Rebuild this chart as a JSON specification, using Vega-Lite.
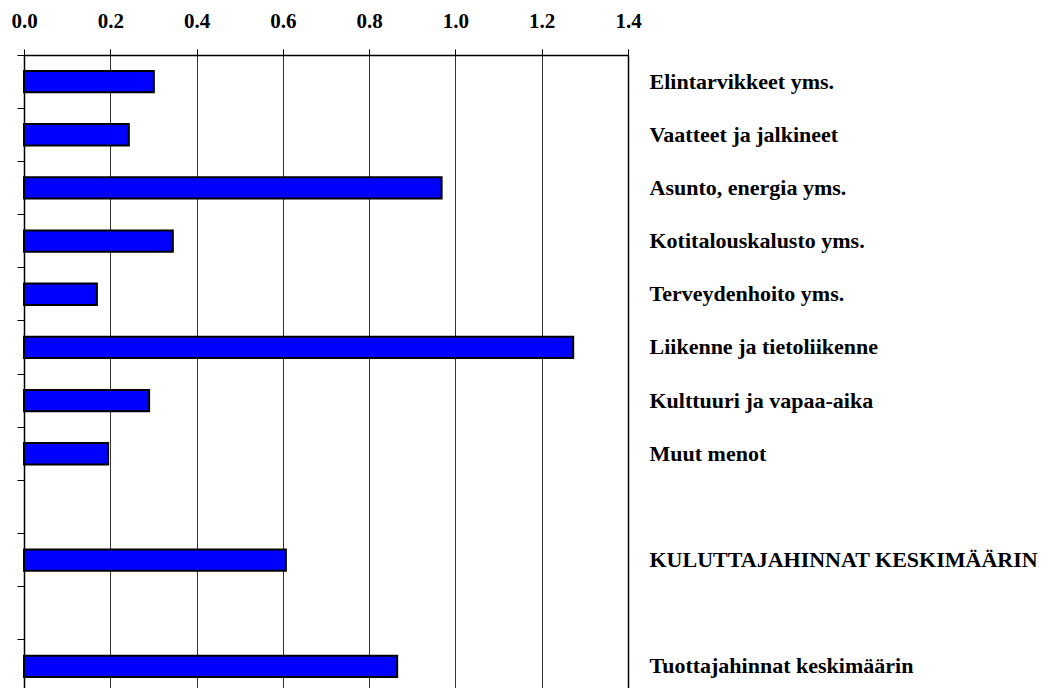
{
  "$schema": "https://vega.github.io/schema/vega-lite/v6.json",
  "width": 604,
  "height": 633,
  "autosize": {"type": "none"},
  "padding": {"left": 24, "top": 55, "right": 420, "bottom": 0},
  "background": "white",
  "config": {"view": {"stroke": null}, "font": "Liberation Serif"},
  "data": {
    "values": [
      {"cat": "Elintarvikkeet yms.", "value": 0.301},
      {"cat": "Vaatteet ja jalkineet", "value": 0.243},
      {"cat": "Asunto, energia yms.", "value": 0.968},
      {"cat": "Kotitalouskalusto yms.", "value": 0.345},
      {"cat": "Terveydenhoito yms.", "value": 0.169},
      {"cat": "Liikenne ja tietoliikenne", "value": 1.273},
      {"cat": "Kulttuuri ja vapaa-aika", "value": 0.29},
      {"cat": "Muut menot", "value": 0.195},
      {"cat": "KULUTTAJAHINNAT KESKIMÄÄRIN", "value": 0.607},
      {"cat": "Tuottajahinnat keskimäärin", "value": 0.865}
    ]
  },
  "encoding": {
    "x": {
      "field": "value",
      "type": "quantitative",
      "scale": {"domain": [0, 1.4], "nice": false, "zero": true},
      "axis": {
        "orient": "top",
        "title": null,
        "values": [0, 0.2, 0.4, 0.6, 0.8, 1.0, 1.2, 1.4],
        "format": ".1f",
        "labelFont": "Liberation Serif",
        "labelFontWeight": "bold",
        "labelFontSize": 21,
        "labelColor": "#000000",
        "labelFlush": false,
        "labelOverlap": false,
        "labelBound": false,
        "labelPadding": 18,
        "tickSize": 6,
        "tickColor": "#000000",
        "tickWidth": 1,
        "domainColor": "#000000",
        "domainWidth": 1.5,
        "grid": true,
        "gridColor": "#333333",
        "gridWidth": 1,
        "gridOpacity": 1
      }
    }
  },
  "layer": [
    {
      "mark": {"type": "bar", "height": {"band": 0.4}, "fill": "#0000FF", "stroke": "#000000", "strokeWidth": 2},
      "encoding": {
        "y": {
          "field": "cat",
          "type": "nominal",
          "sort": null,
          "scale": {
            "domain": ["Elintarvikkeet yms.", "Vaatteet ja jalkineet", "Asunto, energia yms.", "Kotitalouskalusto yms.", "Terveydenhoito yms.", "Liikenne ja tietoliikenne", "Kulttuuri ja vapaa-aika", "Muut menot", " ", "KULUTTAJAHINNAT KESKIMÄÄRIN", "  ", "Tuottajahinnat keskimäärin"],
            "range": [0, 638],
            "paddingInner": 0,
            "paddingOuter": 0
          },
          "axis": {
            "orient": "left",
            "title": null,
            "labels": false,
            "ticks": true,
            "tickSize": 7,
            "tickColor": "#000000",
            "tickWidth": 1,
            "bandPosition": 0,
            "domain": true,
            "domainColor": "#000000",
            "domainWidth": 1.5,
            "grid": false
          }
        }
      }
    },
    {
      "mark": {"type": "bar", "height": {"band": 0.4}, "opacity": 0},
      "encoding": {
        "y": {
          "field": "cat",
          "type": "nominal",
          "sort": null,
          "axis": {
            "orient": "right",
            "title": null,
            "ticks": false,
            "labels": true,
            "labelPadding": 21,
            "labelFont": "Liberation Serif",
            "labelFontWeight": "bold",
            "labelFontSize": 22,
            "labelColor": "#000000",
            "labelAlign": "left",
            "labelLimit": 0,
            "labelOverlap": false,
            "domain": true,
            "domainColor": "#000000",
            "domainWidth": 1.5,
            "grid": false
          }
        }
      }
    }
  ],
  "resolve": {"axis": {"y": "independent"}}
}
